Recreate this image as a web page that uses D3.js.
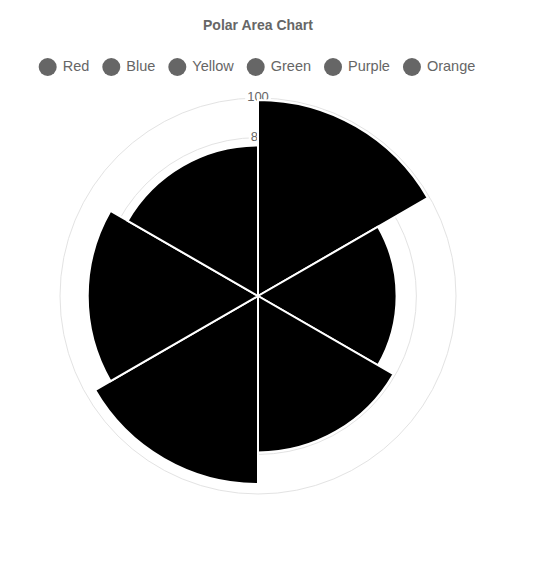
<!DOCTYPE html>
<html>
<head>
<meta charset="utf-8">
<script src="https://cdn.jsdelivr.net/npm/d3@7"></script>
<style>
  html, body { margin: 0; padding: 0; background: #fff; }
  svg { display: block; font-family: "Liberation Sans", Arial, Helvetica, sans-serif; }
</style>
</head>
<body>
<svg id="chart" width="550" height="561"></svg>
<script>
const categories = ["Red", "Blue", "Yellow", "Green", "Purple", "Orange"];
const values = [99, 70, 79, 95, 86, 76];
const tickValues = [20, 40, 60, 80, 100];
const title = "Polar Area Chart";

const svg = d3.select("#chart");
const cx = 258, cy = 296, R = 198;
const rScale = d3.scaleLinear().domain([0, 100]).range([0, R]);

// title
svg.append("text")
  .attr("x", cx).attr("y", 26)
  .attr("text-anchor", "middle").attr("dominant-baseline", "middle")
  .attr("font-size", 14).attr("font-weight", "bold").attr("fill", "#666")
  .text(title);

// legend
const legend = svg.append("g");
let xPos = 0;
categories.forEach((c) => {
  const g = legend.append("g");
  g.append("circle").attr("cx", 9).attr("cy", 0).attr("r", 9).attr("fill", "#666");
  const t = g.append("text").attr("x", 24).attr("y", 0)
    .attr("dominant-baseline", "middle").attr("font-size", 14.5).attr("fill", "#666").text(c);
  const w = t.node().getComputedTextLength();
  g.attr("transform", `translate(${xPos},67)`);
  xPos += 24 + w + 13;
});
const totalW = xPos - 13;
legend.attr("transform", `translate(${257 - totalW / 2},0)`);

// grid rings
const grid = svg.append("g").attr("transform", `translate(${cx},${cy})`);
grid.selectAll("circle.ring").data(tickValues).join("circle")
  .attr("class", "ring")
  .attr("r", d => rScale(d))
  .attr("fill", "none").attr("stroke", "#e3e3e3").attr("stroke-width", 1);

// tick labels with backdrop
tickValues.forEach(v => {
  const g = grid.append("g").attr("transform", `translate(0,${-rScale(v)})`);
  const t = g.append("text").attr("text-anchor", "middle").attr("dominant-baseline", "middle")
    .attr("font-size", 13).attr("fill", "#666").text(v);
  const w = t.node().getComputedTextLength();
  g.insert("rect", "text").attr("x", -w / 2 - 2).attr("y", -8).attr("width", w + 4).attr("height", 16).attr("fill", "#fff");
});

// arcs
const step = 2 * Math.PI / categories.length;
const arc = d3.arc().innerRadius(0);
grid.selectAll("path.seg").data(values).join("path")
  .attr("class", "seg")
  .attr("d", (d, i) => arc({ outerRadius: rScale(d), startAngle: i * step, endAngle: (i + 1) * step }))
  .attr("fill", "#000").attr("stroke", "#fff").attr("stroke-width", 2);
</script>
</body>
</html>
